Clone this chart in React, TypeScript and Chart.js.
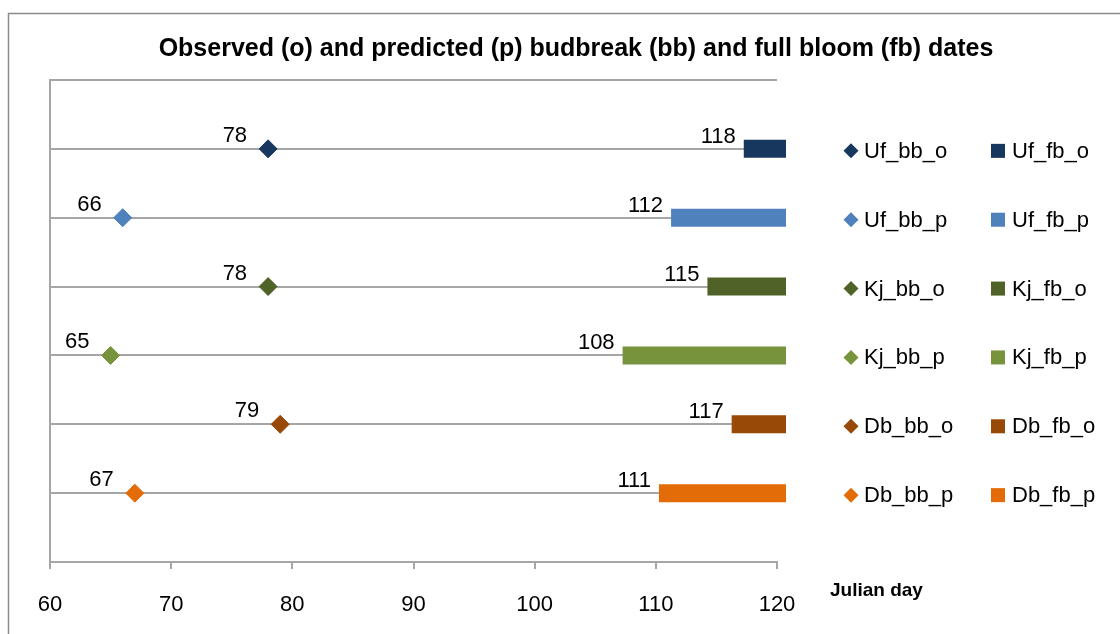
import React, { useEffect, useRef } from "react";
import { Chart, registerables } from "chart.js";

Chart.register(...registerables);

// ---- data ----
const budbreakSeries = ["Uf_bb_o", "Uf_bb_p", "Kj_bb_o", "Kj_bb_p", "Db_bb_o", "Db_bb_p"];
const fullBloomSeries = ["Uf_fb_o", "Uf_fb_p", "Kj_fb_o", "Kj_fb_p", "Db_fb_o", "Db_fb_p"];
const budbreakDays = [78, 66, 78, 65, 79, 67];
const fullBloomDays = [118, 112, 115, 108, 117, 111];
const seasonEnd = 120;
const xMin = 60;
const xMax = 120;
const xStep = 10;
const titleText = "Observed (o) and predicted (p) budbreak (bb) and full bloom (fb) dates";
const xAxisTitle = "Julian day";

// ---- styles ----
const seriesColors = ["#17375e", "#4f81bd", "#4f6228", "#77933c", "#984807", "#e36c09"];
const FONT = "'Liberation Sans', Arial, sans-serif";
const GRID = "#a6a6a6";

export default function App() {
  const ref = useRef<HTMLCanvasElement | null>(null);

  useEffect(() => {
    document.body.style.margin = "0";
    const canvas = ref.current!;
    const rows = budbreakDays.map((_, i) => i + 1);

    const datasets: any[] = [];
    fullBloomDays.forEach((d, i) => {
      datasets.push({
        label: fullBloomSeries[i],
        type: "line",
        data: [
          { x: d, y: rows[i] },
          { x: seasonEnd, y: rows[i] },
        ],
        borderColor: seriesColors[i],
        backgroundColor: seriesColors[i],
        borderWidth: 18,
        borderCapStyle: "square",
        pointRadius: 0,
        clip: false,
        order: 2,
      });
    });
    budbreakDays.forEach((d, i) => {
      datasets.push({
        label: budbreakSeries[i],
        type: "line",
        showLine: false,
        data: [{ x: d, y: rows[i] }],
        pointStyle: "rectRot",
        pointRadius: 9,
        pointBackgroundColor: seriesColors[i],
        pointBorderColor: seriesColors[i],
        borderColor: seriesColors[i],
        backgroundColor: seriesColors[i],
        pointBorderWidth: 1,
        clip: false,
        order: 1,
      });
    });

    const decor = {
      id: "decor",
      beforeDraw(chart: any) {
        const ctx = chart.ctx;
        ctx.save();
        ctx.fillStyle = "#ffffff";
        ctx.fillRect(0, 0, chart.width, chart.height);
        ctx.strokeStyle = "#8c8c8c";
        ctx.lineWidth = 1.5;
        ctx.strokeRect(8.5, 13.5, chart.width + 20, chart.height + 20);
        ctx.restore();
      },
      afterDraw(chart: any) {
        const ctx = chart.ctx;
        const xs = chart.scales.x;
        const ys = chart.scales.y;
        ctx.save();
        // title
        ctx.fillStyle = "#000";
        ctx.font = `bold 25px ${FONT}`;
        ctx.textAlign = "center";
        ctx.textBaseline = "middle";
        ctx.fillText(titleText, 576, 49);
        // axis title
        ctx.font = `bold 19px ${FONT}`;
        ctx.textAlign = "left";
        ctx.fillText(xAxisTitle, 830, 591);
        // data labels
        ctx.font = `22px ${FONT}`;
        ctx.textAlign = "right";
        budbreakDays.forEach((d, i) => {
          const px = xs.getPixelForValue(d);
          const py = ys.getPixelForValue(rows[i]);
          ctx.fillText(String(d), px - 21, py - 13);
        });
        fullBloomDays.forEach((d, i) => {
          const px = xs.getPixelForValue(d);
          const py = ys.getPixelForValue(rows[i]);
          ctx.fillText(String(d), px - 17, py - 12);
        });
        // legend
        ctx.textAlign = "left";
        rows.forEach((r, i) => {
          const py = ys.getPixelForValue(r) + 2;
          const c = seriesColors[i];
          ctx.fillStyle = c;
          ctx.beginPath();
          ctx.moveTo(851, py - 7.5);
          ctx.lineTo(858.5, py);
          ctx.lineTo(851, py + 7.5);
          ctx.lineTo(843.5, py);
          ctx.closePath();
          ctx.fill();
          ctx.fillRect(991, py - 7, 14, 14);
          ctx.fillStyle = "#000";
          ctx.fillText(budbreakSeries[i], 864, py + 1);
          ctx.fillText(fullBloomSeries[i], 1012, py + 1);
        });
        ctx.restore();
      },
    };

    const chart = new Chart(canvas, {
      type: "line",
      data: { datasets },
      options: {
        responsive: false,
        animation: false,
        layout: { padding: { left: 50, top: 80, right: 343, bottom: 0 } },
        plugins: {
          legend: { display: false },
          title: { display: false },
          tooltip: { enabled: false },
        },
        scales: {
          x: {
            type: "linear",
            min: xMin,
            max: xMax,
            afterFit: (s: any) => {
              s.height = 72;
            },
            ticks: {
              stepSize: xStep,
              color: "#000",
              font: { family: FONT, size: 22 },
              padding: 23,
              maxRotation: 0,
              autoSkip: false,
            },
            grid: {
              drawOnChartArea: false,
              drawTicks: true,
              tickLength: 7,
              color: GRID,
              lineWidth: 2,
            },
            border: { color: GRID, width: 2 },
          },
          y: {
            type: "linear",
            min: 0,
            max: 7,
            reverse: true,
            afterFit: (s: any) => {
              s.width = 0;
            },
            ticks: { display: false, stepSize: 1 },
            grid: { color: GRID, lineWidth: 2, drawTicks: false },
            border: { color: GRID, width: 2 },
          },
        },
      },
      plugins: [decor],
    });
    return () => chart.destroy();
  }, []);

  return (
    <canvas
      ref={ref}
      width={1120}
      height={634}
      style={{ display: "block", width: 1120, height: 634 }}
    />
  );
}
